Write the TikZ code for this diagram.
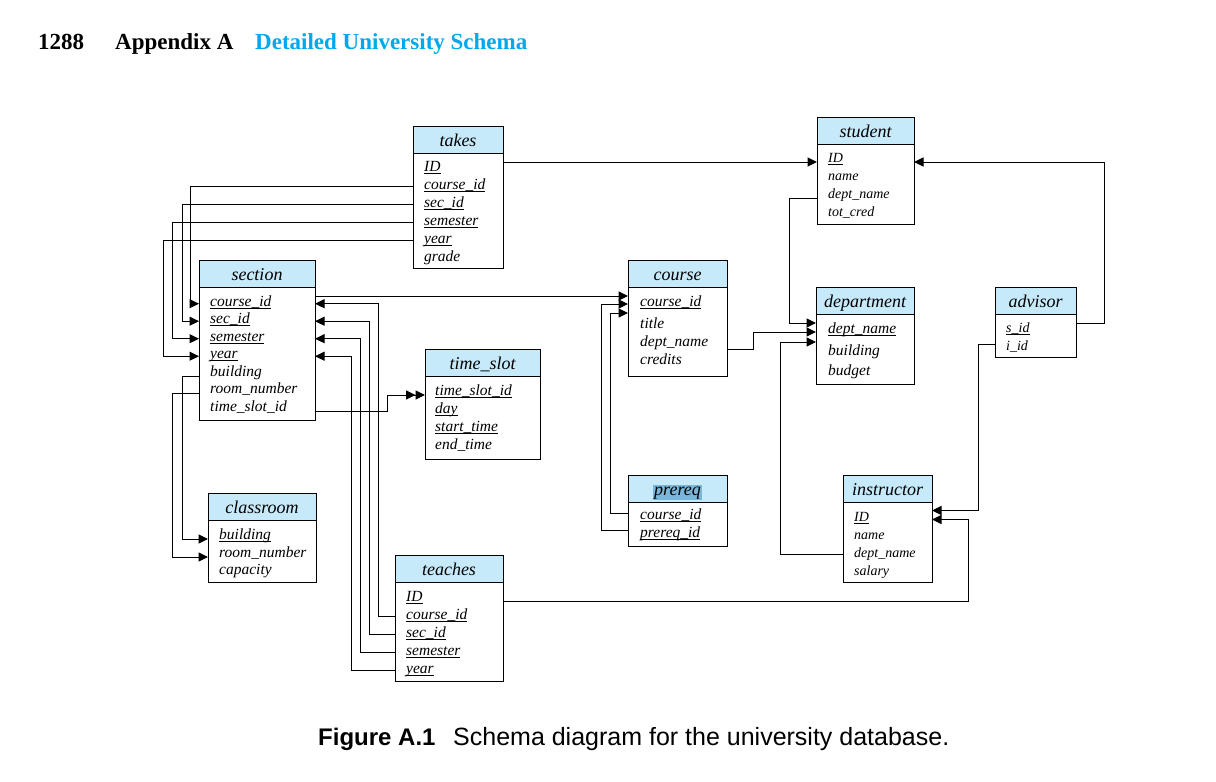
\documentclass[tikz,border=0pt]{standalone}
\usepackage{fontspec}
\setmainfont{Liberation Serif}
\newfontfamily\captionfont{Liberation Sans}
\usetikzlibrary{arrows.meta,positioning}

\definecolor{headblue}{RGB}{199,234,251}
\definecolor{titleblue}{RGB}{0,168,236}
\definecolor{markblue}{RGB}{122,182,218}

% underlined key attribute
\newcommand{\key}[1]{\setbox0=\hbox{#1}\rlap{\rule[-2.4pt]{\wd0}{0.8pt}}\box0}

\tikzset{
  head/.style={draw,fill=headblue,line width=1pt,inner sep=0pt,outer sep=0pt,
    minimum height=27pt,text height=13pt,text depth=0pt,font=\fontsize{18}{20}\selectfont\itshape},
  body/.style={draw,fill=white,line width=1pt,inner sep=0pt,outer sep=0pt,below=0pt of #1},
  attr/.style={anchor=base west,inner sep=0pt,font=\fontsize{15.5}{18}\selectfont\itshape},
  smallattr/.style={attr,font=\fontsize{14}{16}\selectfont\itshape},
  heading/.style={anchor=base west,inner sep=0pt,font=\fontsize{23}{26}\selectfont\bfseries},
  caption/.style={anchor=base west,inner sep=0pt,font=\captionfont\fontsize{25}{28}\selectfont},
  link/.style={line width=1pt},
}

\begin{document}
\begin{tikzpicture}[x=1pt,y=-1pt,>={Triangle[length=9.5pt,width=9pt]}]
\path[use as bounding box,fill=white] (0,0) rectangle (1216,782);

% page heading
\node[heading] (pagenum) at (38,49) {1288};
\node[heading] (appendix) at (115,49) {Appendix A};
\node[heading,text=titleblue] (chaptitle) at (255,49) {Detailed University Schema};

% takes
\node[head,minimum width=90pt] (takes-h) at (458,139.5) {takes};
\node[body=takes-h,minimum width=90pt,minimum height=115pt] (takes) {};
\foreach \n/\t/\y in {id/\key{ID}/171,cid/\key{course\_id}/189,sid/\key{sec\_id}/207,
    sem/\key{semester}/225,yr/\key{year}/243,grade/grade/261}
  \node[attr] (takes-\n) at (424,\y) {\t};

% student
\node[head,minimum width=97pt] (student-h) at (865.5,130.5) {student};
\node[body=student-h,minimum width=97pt,minimum height=80pt] (student) {};
\foreach \n/\t/\y in {id/\key{ID}/162,name/name/180,dname/dept\_name/198,cred/tot\_cred/216}
  \node[smallattr] (student-\n) at (828,\y) {\t};

% section
\node[head,minimum width=116pt] (section-h) at (257,273.5) {section};
\node[body=section-h,minimum width=116pt,minimum height=133pt] (section) {};
\foreach \n/\t/\y in {cid/\key{course\_id}/306,sid/\key{sec\_id}/323.5,sem/\key{semester}/341,
    yr/\key{year}/358.5,bld/building/376,room/room\_number/393.5,ts/time\_slot\_id/411}
  \node[attr] (section-\n) at (210,\y) {\t};

% course
\node[head,minimum width=99pt] (course-h) at (677.5,273.5) {course};
\node[body=course-h,minimum width=99pt,minimum height=89pt] (course) {};
\foreach \n/\t/\y in {cid/\key{course\_id}/306,title/title/328,dname/dept\_name/346,cred/credits/364}
  \node[attr] (course-\n) at (640,\y) {\t};

% department
\node[head,minimum width=98pt] (department-h) at (865,300.5) {department};
\node[body=department-h,minimum width=98pt,minimum height=70pt] (department) {};
\foreach \n/\t/\y in {dname/\key{dept\_name}/333,bld/building/355,budget/budget/375}
  \node[attr] (department-\n) at (828,\y) {\t};

% advisor
\node[head,minimum width=81pt] (advisor-h) at (1035.5,300.5) {advisor};
\node[body=advisor-h,minimum width=81pt,minimum height=43pt] (advisor) {};
\foreach \n/\t/\y in {sid/\key{s\_id}/332,iid/i\_id/350}
  \node[smallattr] (advisor-\n) at (1006,\y) {\t};

% time_slot
\node[head,minimum width=115pt] (timeslot-h) at (482.5,362.5) {time\_slot};
\node[body=timeslot-h,minimum width=115pt,minimum height=83pt] (timeslot) {};
\foreach \n/\t/\y in {id/\key{time\_slot\_id}/395,day/\key{day}/413,start/\key{start\_time}/431,
    end/end\_time/449}
  \node[attr] (timeslot-\n) at (435,\y) {\t};

% classroom
\node[head,minimum width=108pt] (classroom-h) at (262,506.5) {classroom};
\node[body=classroom-h,minimum width=108pt,minimum height=62pt] (classroom) {};
\foreach \n/\t/\y in {bld/\key{building}/539,room/room\_number/557,cap/capacity/574}
  \node[attr] (classroom-\n) at (219,\y) {\t};

% prereq
\node[head,minimum width=99pt] (prereq-h) at (677.5,488.5) {\fboxsep=1.5pt\colorbox{markblue}{prereq}};
\node[body=prereq-h,minimum width=99pt,minimum height=44pt] (prereq) {};
\foreach \n/\t/\y in {cid/\key{course\_id}/519,pid/\key{prereq\_id}/537}
  \node[attr] (prereq-\n) at (640,\y) {\t};

% instructor
\node[head,minimum width=89pt] (instructor-h) at (887.5,488.5) {instructor};
\node[body=instructor-h,minimum width=89pt,minimum height=80pt] (instructor) {};
\foreach \n/\t/\y in {id/\key{ID}/521,name/name/539,dname/dept\_name/557,sal/salary/575}
  \node[smallattr] (instructor-\n) at (854,\y) {\t};

% teaches
\node[head,minimum width=108pt] (teaches-h) at (449,568.5) {teaches};
\node[body=teaches-h,minimum width=108pt,minimum height=99pt] (teaches) {};
\foreach \n/\t/\y in {id/\key{ID}/601,cid/\key{course\_id}/619,sid/\key{sec\_id}/637,
    sem/\key{semester}/655,yr/\key{year}/673}
  \node[attr] (teaches-\n) at (406,\y) {\t};

% foreign keys
\draw[link,->] (student-id.base -| takes.east) -- (student-id.base -| student.west);
\draw[link,->] (takes-cid.mid -| takes.west) -- ++(-223,0) |- (section-cid.mid -| section.west);
\draw[link,->] (takes-sid.mid -| takes.west) -- ++(-231,0) |- (section-sid.mid -| section.west);
\draw[link,->] (takes-sem.mid -| takes.west) -- ++(-241,0) |- (section-sem.mid -| section.west);
\draw[link,->] (takes-yr.mid -| takes.west) -- ++(-250,0) |- (section-yr.mid -| section.west);

\draw[link,->] (section-bld.base -| section.west) -- ++(-17,0) |- (classroom-bld.base -| classroom.west);
\draw[link,->] (section-room.base -| section.west) -- ++(-27,0) |- (classroom-room.base -| classroom.west);
\draw[link,->>] (section-ts.base -| section.east) -- ++(72,0) |- (timeslot-id.base -| timeslot.west);
\draw[link,->] ([yshift=10pt]section-cid.base -| section.east) -- ([yshift=10pt]section-cid.base -| course.west);

\draw[link,->] ([yshift=3pt]prereq-cid.mid -| prereq.west) -- ++(-18,0) |- ([yshift=-7pt]course-cid.base -| course.west);
\draw[link,->] ([yshift=4pt]prereq-pid.mid -| prereq.west) -- ++(-27,0) |- ([yshift=2pt]course-cid.base -| course.west);

\draw[link,->] (teaches-cid.mid -| teaches.west) -- ++(-17,0) |- (section-cid.mid -| section.east);
\draw[link,->] (teaches-sid.mid -| teaches.west) -- ++(-26,0) |- (section-sid.mid -| section.east);
\draw[link,->] (teaches-sem.mid -| teaches.west) -- ++(-35,0) |- (section-sem.mid -| section.east);
\draw[link,->] (teaches-yr.mid -| teaches.west) -- ++(-44,0) |- (section-yr.mid -| section.east);
\draw[link,->] (teaches-id.base -| teaches.east) -- ++(465,0) |- ([yshift=1.5pt]instructor-id.base -| instructor.east);

\draw[link,->] (student-dname.base -| student.west) -- ++(-28,0) |- ([yshift=10pt]department-dname.base -| department.west);
\draw[link,->] ([yshift=-3pt]course-dname.base -| course.east) -- ++(26,0) |- ([yshift=1pt]department-dname.base -| department.west);
\draw[link,->] (instructor-dname.mid -| instructor.west) -- ++(-63,0) |- ([yshift=-9pt]department-dname.base -| department.west);

\draw[link,->] ([yshift=6pt]advisor-sid.mid -| advisor.east) -- ++(28,0) |- (student-id.base -| student.east);
\draw[link,->] ([yshift=3pt]advisor-iid.mid -| advisor.west) -- ++(-17,0) |- ([yshift=10.5pt]instructor-id.base -| instructor.east);

% caption
\node[caption,font=\captionfont\fontsize{24}{28}\selectfont\bfseries] (figlabel) at (318,745) {Figure A.1};
\node[caption] (figtext) at (453,745) {Schema diagram for the university database.};
\end{tikzpicture}
\end{document}
